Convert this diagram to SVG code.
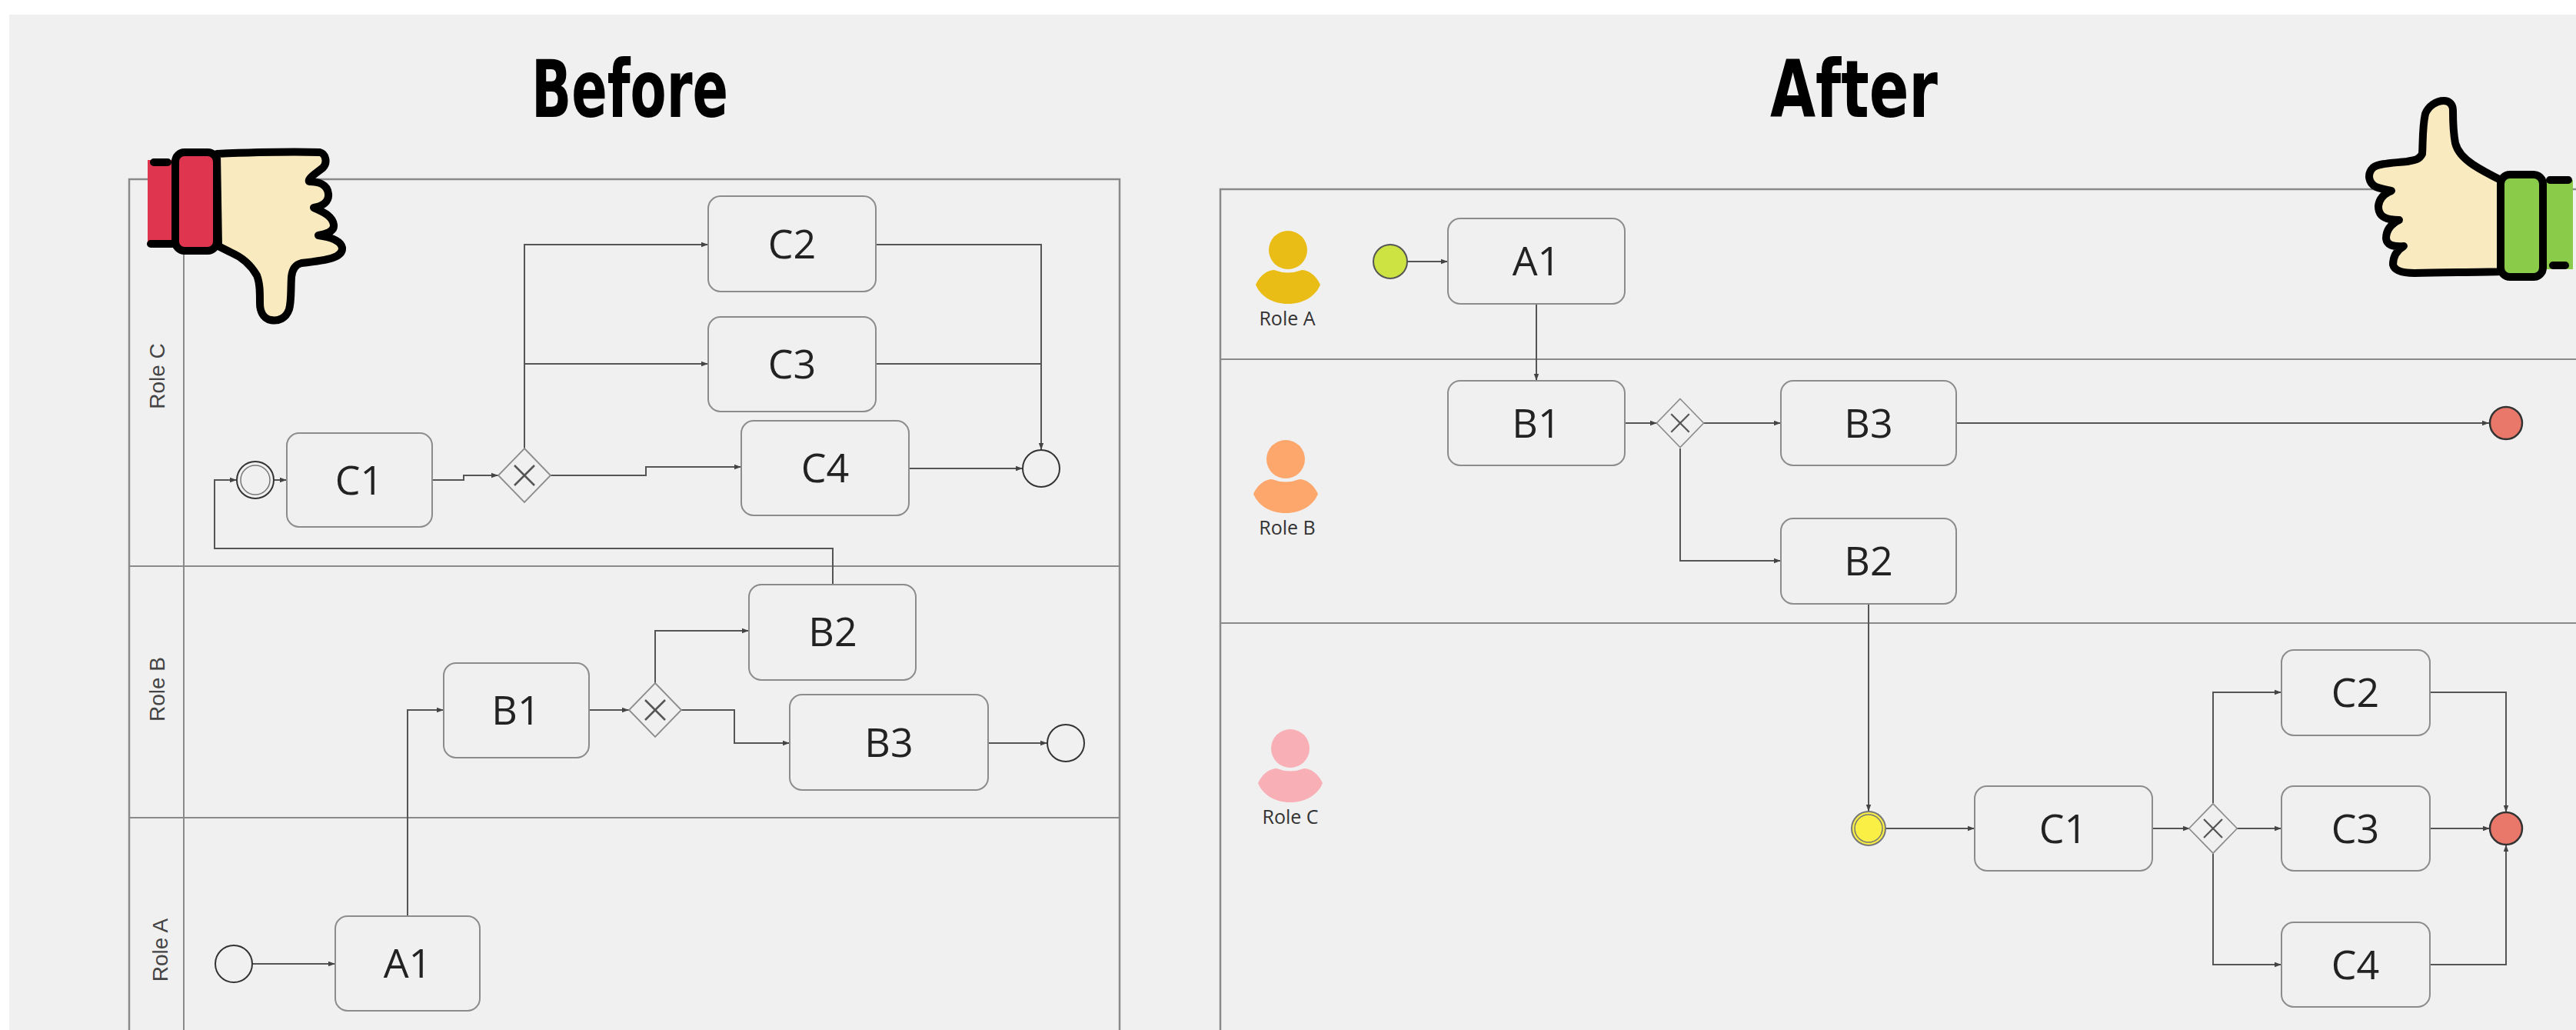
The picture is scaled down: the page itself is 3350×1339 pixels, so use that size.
<svg xmlns="http://www.w3.org/2000/svg" width="3350" height="1339" viewBox="0 0 3350 1339">
  <defs>
    <style>
      .bg { fill: #f0f0f0; }
      .pool { fill: none; stroke: #8a8a8a; stroke-width: 2.5; }
      .lane { fill: none; stroke: #8a8a8a; stroke-width: 2; }
      .task rect { fill: #f0f0f0; stroke: #8c8c8c; stroke-width: 2; }
      .task text { font-family: "Open Sans", "Liberation Sans", sans-serif; font-size: 52px; fill: #222; text-anchor: middle; }
      .flow { fill: none; stroke: #555; stroke-width: 2; marker-end: url(#arrow); }
      .flow-plain { fill: none; stroke: #555; stroke-width: 2; }
      .gw path { fill: #f0f0f0; stroke: #8c8c8c; stroke-width: 1.8; }
      .gw line { stroke: #555; stroke-width: 2.5; }
      .evt { fill: #f0f0f0; stroke: #333; stroke-width: 2; }
      .role-v { font-family: "Liberation Sans", Arial, sans-serif; font-size: 28px; fill: #444; text-anchor: middle; }
      .role-h { font-family: "Open Sans", "Liberation Sans", sans-serif; font-size: 25px; fill: #333; text-anchor: middle; }
      .title { font-family: "DejaVu Sans Condensed", "DejaVu Sans", sans-serif; font-weight: bold; font-size: 104px; fill: #000; text-anchor: middle; }
      .ink { stroke: #000; stroke-width: 10; stroke-linejoin: round; stroke-linecap: round; }
      .skin { fill: #f9eac0; }
    </style>
    <marker id="arrow" markerUnits="userSpaceOnUse" markerWidth="10" markerHeight="8" refX="9" refY="4" orient="auto">
      <path d="M0,0.8 L9,4 L0,7.2 z" fill="#444"/>
    </marker>
    <!-- exclusive gateway: diamond with X, centred at 0,0 -->
    <g id="gateway" class="gw">
      <path d="M0,-35 L34,0 L0,35 L-34,0 Z"/>
      <line x1="-13" y1="-13" x2="13" y2="13"/>
      <line x1="13" y1="-13" x2="-13" y2="13"/>
    </g>
    <!-- person silhouette, head centred at 0,0 -->
    <path id="person-body" d="M-42,45 C-36,32 -26,26 -18,26 Q0,33 18,26 C26,26 36,32 42,45 C36,60 20,70 0,70 C-20,70 -36,60 -42,45 Z"/>
  </defs>

  <!-- canvas -->
  <rect x="0" y="0" width="3350" height="1339" fill="#ffffff"/>
  <rect class="bg" x="12" y="19" width="3338" height="1320"/>

  <!-- titles -->
  <text class="title" x="819" y="152" textLength="256" lengthAdjust="spacingAndGlyphs">Before</text>
  <text class="title" x="2411" y="152" textLength="218" lengthAdjust="spacingAndGlyphs">After</text>

  <!-- ===== BEFORE: pool with vertical lane headers ===== -->
  <g id="before-pool">
    <path class="pool" d="M168,1339 V233 H1456 V1339"/>
    <line class="lane" x1="239" y1="233" x2="239" y2="1339"/>
    <line class="lane" x1="168" y1="736" x2="1456" y2="736"/>
    <line class="lane" x1="168" y1="1063" x2="1456" y2="1063"/>
    <text class="role-v" transform="translate(214,489) rotate(-90)">Role C</text>
    <text class="role-v" transform="translate(214,896) rotate(-90)">Role B</text>
    <text class="role-v" transform="translate(218,1235) rotate(-90)">Role A</text>
  </g>

  <g id="before-connectors">
    <path class="flow" d="M328,1253 H436"/>
    <path class="flow" d="M530,1191 V923 H577"/>
    <path class="flow" d="M766,923 H818"/>
    <path class="flow" d="M852,888 V820 H974"/>
    <path class="flow" d="M886,923 H955 V966 H1027"/>
    <path class="flow" d="M1285,966 H1362"/>
    <path class="flow" d="M1083,760 V713 H279 V624 H308"/>
    <path class="flow" d="M356,624 H373"/>
    <path class="flow" d="M562,624 H603 V618 H648"/>
    <path class="flow" d="M682,583 V318 H921"/>
    <path class="flow" d="M682,473 H921"/>
    <path class="flow" d="M716,618 H840 V607 H964"/>
    <path class="flow" d="M1139,318 H1354 V585"/>
    <path class="flow-plain" d="M1139,473 H1354"/>
    <path class="flow" d="M1182,609 H1330"/>
  </g>

  <g id="before-startA"><circle class="evt" cx="304" cy="1253" r="24" stroke="#666"/></g>
  <g id="before-A1" class="task"><rect x="436" y="1191" width="188" height="123" rx="16"/><text x="530" y="1271">A1</text></g>
  <g id="before-B1" class="task"><rect x="577" y="862" width="189" height="123" rx="16"/><text x="671" y="942">B1</text></g>
  <g id="before-gwB"><use href="#gateway" x="852" y="923"/></g>
  <g id="before-B2" class="task"><rect x="974" y="760" width="217" height="124" rx="16"/><text x="1083" y="840">B2</text></g>
  <g id="before-B3" class="task"><rect x="1027" y="903" width="258" height="124" rx="16"/><text x="1156" y="984">B3</text></g>
  <g id="before-endB"><circle class="evt" cx="1386" cy="966" r="24"/></g>
  <g id="before-startC">
    <circle class="evt" cx="332" cy="624" r="24" stroke="#777"/>
    <circle cx="332" cy="624" r="19" fill="none" stroke="#777" stroke-width="1.5"/>
  </g>
  <g id="before-C1" class="task"><rect x="373" y="563" width="189" height="122" rx="16"/><text x="467" y="643">C1</text></g>
  <g id="before-gwC"><use href="#gateway" x="682" y="618"/></g>
  <g id="before-C2" class="task"><rect x="921" y="255" width="218" height="124" rx="16"/><text x="1030" y="336">C2</text></g>
  <g id="before-C3" class="task"><rect x="921" y="412" width="218" height="123" rx="16"/><text x="1030" y="492">C3</text></g>
  <g id="before-C4" class="task"><rect x="964" y="547" width="218" height="123" rx="16"/><text x="1073" y="627">C4</text></g>
  <g id="before-endC"><circle class="evt" cx="1354" cy="609" r="24"/></g>

  <!-- thumbs down -->
  <g id="thumb-down">
    <rect x="192" y="208" width="38" height="112" fill="#e0354f"/>
    <path class="ink" d="M200,211 H218 M196,317 H224" fill="none"/>
    <path class="ink skin" d="M282,200 C330,198 380,197 416,198 C424,200 426,212 420,218 C410,226 400,232 402,236 C414,236 426,240 427,252 C428,262 420,268 408,270 C420,276 432,280 434,292 C435,300 426,304 414,306 C428,308 443,312 445,322 C446,334 430,338 392,342 C384,344 380,350 379,360 C378,378 379,392 376,402 C372,414 362,418 352,416 C342,414 338,404 338,394 C338,380 338,368 334,358 C326,344 314,334 300,328 C292,324 288,322 284,320 Z"/>
    <rect class="ink" x="228" y="198" width="54" height="128" rx="12" fill="#e0354f"/>
  </g>

  <!-- ===== AFTER: pool with role icons ===== -->
  <g id="after-pool">
    <path class="pool" d="M1587,1339 V246 H3350"/>
    <line class="lane" x1="1587" y1="467" x2="3350" y2="467"/>
    <line class="lane" x1="1587" y1="810" x2="3350" y2="810"/>
  </g>

  <g id="role-a">
    <circle cx="1675" cy="325" r="25" fill="#e9bd16"/>
    <use href="#person-body" x="1675" y="325" fill="#e9bd16"/>
    <text class="role-h" x="1674" y="423">Role A</text>
  </g>
  <g id="role-b">
    <circle cx="1672" cy="597" r="25" fill="#fda76c"/>
    <use href="#person-body" x="1672" y="597" fill="#fda76c"/>
    <text class="role-h" x="1674" y="695">Role B</text>
  </g>
  <g id="role-c">
    <circle cx="1678" cy="973" r="25" fill="#f8b0b6"/>
    <use href="#person-body" x="1678" y="973" fill="#f8b0b6"/>
    <text class="role-h" x="1678" y="1071">Role C</text>
  </g>

  <g id="after-connectors">
    <path class="flow" d="M1830,340 H1883"/>
    <path class="flow" d="M1998,395 V495"/>
    <path class="flow" d="M2113,550 H2155"/>
    <path class="flow" d="M2215,550 H2316"/>
    <path class="flow" d="M2544,550 H3237"/>
    <path class="flow" d="M2185,583 V729 H2316"/>
    <path class="flow" d="M2430,785 V1055"/>
    <path class="flow" d="M2452,1077 H2568"/>
    <path class="flow" d="M2799,1077 H2848"/>
    <path class="flow" d="M2908,1077 H2967"/>
    <path class="flow" d="M2878,1044 V900 H2967"/>
    <path class="flow" d="M2878,1110 V1254 H2967"/>
    <path class="flow" d="M3160,900 H3259 V1056"/>
    <path class="flow" d="M3160,1077 H3238"/>
    <path class="flow" d="M3160,1254 H3259 V1098"/>
  </g>

  <g id="after-startA"><circle cx="1808" cy="340" r="22" fill="#cde342" stroke="#555" stroke-width="2"/></g>
  <g id="after-A1" class="task"><rect x="1883" y="284" width="230" height="111" rx="16"/><text x="1998" y="358">A1</text></g>
  <g id="after-B1" class="task"><rect x="1883" y="495" width="230" height="110" rx="16"/><text x="1998" y="569">B1</text></g>
  <g id="after-gwB"><use href="#gateway" x="2185" y="550" transform="translate(2185,550) scale(0.9) translate(-2185,-550)"/></g>
  <g id="after-B3" class="task"><rect x="2316" y="495" width="228" height="110" rx="16"/><text x="2430" y="569">B3</text></g>
  <g id="after-endB"><circle cx="3259" cy="550" r="21" fill="#e9786a" stroke="#333" stroke-width="2.5"/></g>
  <g id="after-B2" class="task"><rect x="2316" y="674" width="228" height="111" rx="16"/><text x="2430" y="748">B2</text></g>
  <g id="after-startC">
    <circle cx="2430" cy="1077" r="22" fill="#f9ef45" stroke="#777" stroke-width="2"/>
    <circle cx="2430" cy="1077" r="18" fill="none" stroke="#777" stroke-width="1.5"/>
  </g>
  <g id="after-C1" class="task"><rect x="2568" y="1022" width="231" height="110" rx="16"/><text x="2683" y="1096">C1</text></g>
  <g id="after-gwC"><use href="#gateway" x="0" y="0" transform="translate(2878,1077) scale(0.92)"/></g>
  <g id="after-C2" class="task"><rect x="2967" y="845" width="193" height="111" rx="16"/><text x="3063" y="919">C2</text></g>
  <g id="after-C3" class="task"><rect x="2967" y="1022" width="193" height="110" rx="16"/><text x="3063" y="1096">C3</text></g>
  <g id="after-C4" class="task"><rect x="2967" y="1199" width="193" height="110" rx="16"/><text x="3063" y="1273">C4</text></g>
  <g id="after-endC"><circle cx="3259" cy="1077" r="21" fill="#e9786a" stroke="#333" stroke-width="2.5"/></g>

  <!-- thumbs up -->
  <g id="thumb-up">
    <rect x="3308" y="234" width="38" height="116" fill="#8bcb4a"/>
    <path class="ink" d="M3316,234 H3340 M3320,345 H3336" fill="none"/>
    <path class="ink skin" d="M3252,234 C3240,228 3228,222 3216,214 C3204,206 3196,198 3193,186 C3190,170 3190,156 3190,144 C3190,136 3186,131 3178,131 C3168,131 3158,138 3154,148 C3150,166 3151,186 3150,200 C3146,208 3140,208 3130,210 C3112,212 3094,212 3086,218 C3078,226 3080,238 3090,243 C3098,246 3106,247 3110,248 C3100,252 3094,258 3093,268 C3093,278 3098,283 3108,285 C3114,286 3118,286 3120,286 C3108,292 3103,300 3103,310 C3104,318 3110,321 3126,320 C3116,326 3112,334 3112,344 C3114,352 3124,355 3140,355 C3180,354 3220,354 3252,353 Z"/>
    <rect class="ink" x="3252" y="227" width="55" height="133" rx="12" fill="#8bcb4a"/>
  </g>
</svg>
